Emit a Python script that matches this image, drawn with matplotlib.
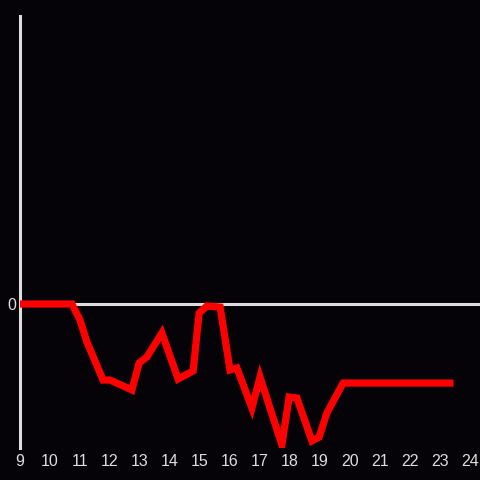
import matplotlib
matplotlib.use("Agg")
import matplotlib.pyplot as plt

hours = [9.0, 10.73, 11.0, 11.23, 11.77, 12.0, 12.73, 12.97, 13.23, 13.73, 14.27,
         14.77, 14.97, 15.23, 15.67, 16.0, 16.23, 16.73, 17.0, 17.73, 17.97, 18.23,
         18.73, 18.97, 19.23, 19.77, 23.33]
values = [0.0, 0.0, -0.111, -0.264, -0.528, -0.528, -0.597, -0.41, -0.368, -0.201, -0.521,
          -0.465, -0.0625, -0.014, -0.021, -0.458, -0.444, -0.722, -0.507, -0.979, -0.646, -0.653,
          -0.951, -0.924, -0.757, -0.549, -0.549]
xticks = list(range(9, 25))
yticks = [0]

bg = "#050307"
fg = "#dddddd"

fig = plt.figure(figsize=(4.8, 4.8), dpi=100, facecolor=bg)
ax = fig.add_axes([20/480, 32/480, 460/480, 432/480])
ax.set_facecolor(bg)

ax.plot(hours, values, color="#ff0000", lw=5.2, solid_joinstyle="miter", zorder=3)
ax.axhline(0, color=fg, lw=2.2, zorder=2)

ax.set_xlim(9, 9 + 460/30)
ax.set_ylim(-1, 2)

for s in ["top", "right", "bottom"]:
    ax.spines[s].set_visible(False)
ax.spines["left"].set_color(fg)
ax.spines["left"].set_linewidth(2.2)

ax.set_xticks(xticks)
ax.set_xticklabels([str(t) for t in xticks], family="Liberation Sans", fontsize=11.5, color=fg)
ax.set_yticks(yticks)
ax.set_yticklabels([str(t) for t in yticks], family="Liberation Sans", fontsize=11.5, color=fg)
ax.tick_params(axis="x", length=0, pad=4)
ax.tick_params(axis="y", length=0, pad=3)

fig.savefig("out.png", dpi=100, facecolor=bg)
